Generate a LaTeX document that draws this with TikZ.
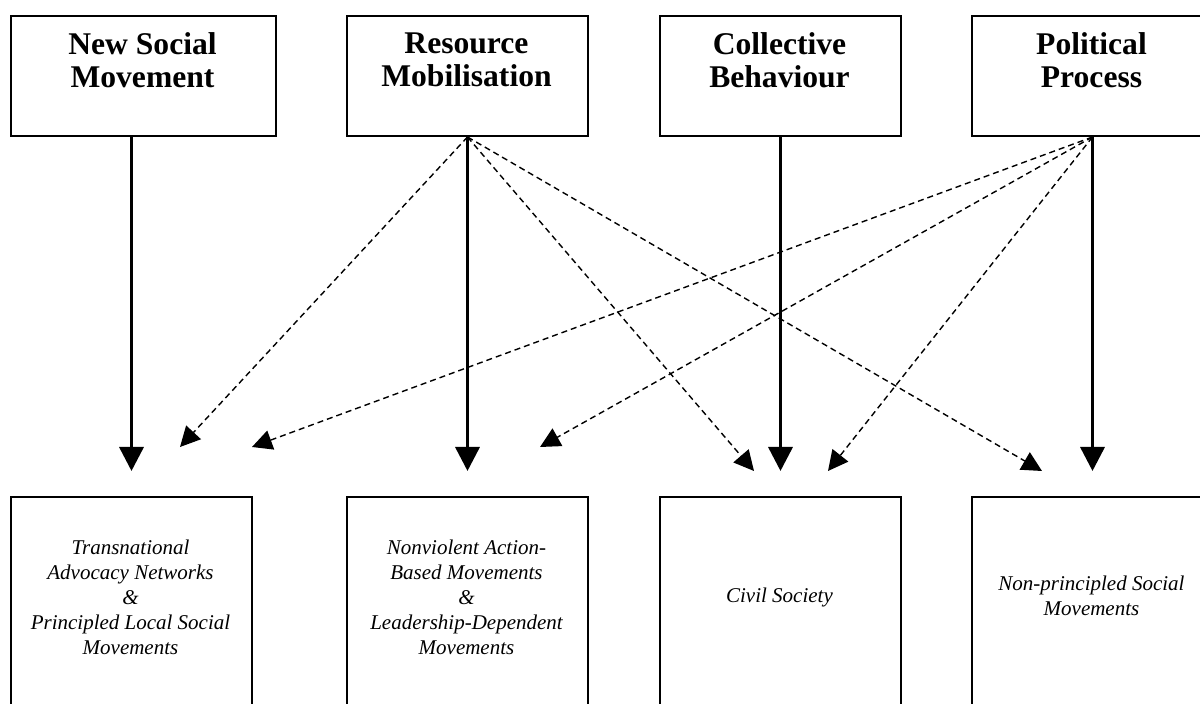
\documentclass[tikz,border=0pt]{standalone}
\usepackage{fontspec}
\setmainfont{Liberation Serif}
\usetikzlibrary{arrows.meta,calc}
\begin{document}
\begin{tikzpicture}[x=0.5pt,y=-0.5pt,
  box/.style={draw, line width=1pt, rectangle, inner sep=0pt, anchor=north west},
  topbox/.style={box, minimum height=60pt},
  botbox/.style={box, minimum width=120.5pt, minimum height=115pt},
  toptext/.style={font=\fontsize{15.8}{16.5}\selectfont\bfseries, align=center, anchor=north, inner sep=0pt},
  bottext/.style={font=\fontsize{10.5}{12.5}\selectfont\itshape, align=center, inner sep=0pt},
  solidarrow/.style={line width=1.75pt, -{Triangle[length=12pt,width=12pt]}},
  dasharrow/.style={line width=0.7pt, dash pattern=on 3pt off 2pt, -{Triangle[length=10pt,width=10pt]}},
]
\useasboundingbox (0,0) rectangle (1200,704);
% top boxes
\node[topbox, minimum width=132.5pt] (t1) at (10,15) {};
\node[topbox, minimum width=120.5pt] (t2) at (346,15) {};
\node[topbox, minimum width=120.5pt] (t3) at (659,15) {};
\node[topbox, minimum width=120.5pt] (t4) at (971,15) {};
\node[toptext] (t1x) at (142.5,32) {New Social\\Movement};
\node[toptext] (t2x) at (466.5,32) {Resource\\Mobilisation};
\node[toptext] (t3x) at (779.5,32) {Collective\\Behaviour};
\node[toptext] (t4x) at (1091.5,32) {Political\\Process};
% bottom boxes
\node[botbox] (b1) at (10,496) {};
\node[botbox] (b2) at (346,496) {};
\node[botbox] (b3) at (659,496) {};
\node[botbox] (b4) at (971,496) {};
\node[bottext] (b1x) at (130.5,597) {Transnational\\Advocacy Networks\\\&\\Principled Local Social\\Movements};
\node[bottext] (b2x) at (466.5,597) {Nonviolent Action-\\Based Movements\\\&\\Leadership-Dependent\\Movements};
\node[bottext] (b3x) at (779.5,597) {Civil Society};
\node[bottext] (b4x) at (1091.5,596) {Non-principled Social\\Movements};
% arrow tips
\coordinate (a1) at ($(b1.north)+(0,-25)$);
\coordinate (a2) at ($(b2.north)+(0,-25)$);
\coordinate (a3) at ($(b3.north)+(0,-25)$);
\coordinate (a4) at ($(b4.north)+(0,-25)$);
\coordinate (d1) at (180,447);
\coordinate (d2) at (252,447);
\coordinate (d3) at (540,447);
\coordinate (d4) at (754,471);
\coordinate (d5) at (828,471);
\coordinate (d6) at (1042,471);
% solid arrows
\draw[solidarrow] (t1.south -| a1) -- (a1);
\draw[solidarrow] (t2.south) -- (a2);
\draw[solidarrow] (t3.south) -- (a3);
\draw[solidarrow] (t4.south) -- (a4);
% dashed arrows
\draw[dasharrow] (t2.south) -- (d1);
\draw[dasharrow] (t2.south) -- (d4);
\draw[dasharrow] (t2.south) -- (d6);
\draw[dasharrow] (t4.south) -- (d2);
\draw[dasharrow] (t4.south) -- (d3);
\draw[dasharrow] (t4.south) -- (d5);
\end{tikzpicture}
\end{document}
